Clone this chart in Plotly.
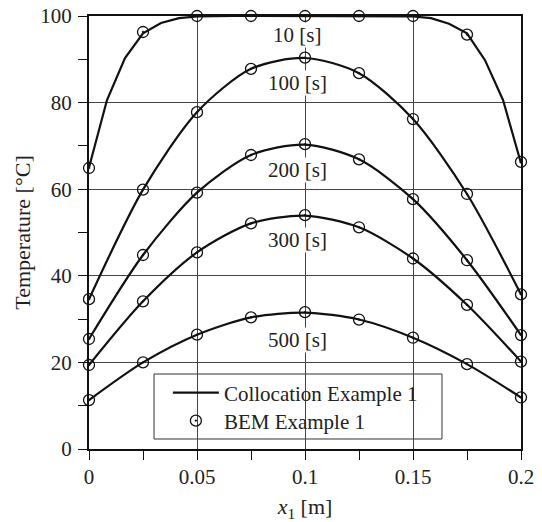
import plotly.graph_objects as go

# ---------------- data ----------------
x_bem = [0.0, 0.025, 0.05, 0.075, 0.1, 0.125, 0.15, 0.175, 0.2]
bem_10 = [64.9, 96.3, 100.0, 100.0, 100.0, 100.0, 100.0, 95.7, 66.3]
bem_100 = [34.6, 59.9, 77.8, 87.8, 90.4, 86.8, 76.2, 58.9, 35.7]
bem_200 = [25.4, 44.8, 59.2, 67.9, 70.4, 66.9, 57.7, 43.6, 26.3]
bem_300 = [19.4, 34.1, 45.4, 52.1, 54.0, 51.2, 44.0, 33.3, 20.2]
bem_500 = [11.3, 20.0, 26.4, 30.4, 31.6, 29.9, 25.7, 19.6, 11.9]

# collocation, t = 10 s (fine sampling, step 0.2/24)
x_col_fine = [i * 0.2 / 24 for i in range(25)]
col_10 = [65.0, 80.6, 90.3, 96.0, 98.4, 99.5, 99.9,
          100.0, 100.0, 100.0, 100.0, 100.0, 100.0, 100.0, 100.0, 100.0, 100.0, 100.0,
          99.9, 99.5, 98.2, 96.0, 89.8, 80.6, 66.0]
# collocation, other times (smooth curves)
x_col = [0.0, 0.025, 0.05, 0.075, 0.1, 0.125, 0.15, 0.175, 0.2]
col_100 = [34.6, 59.9, 77.8, 87.8, 90.3, 86.8, 76.2, 58.9, 35.7]
col_200 = [25.4, 44.8, 59.2, 67.9, 70.3, 66.9, 57.7, 43.6, 26.3]
col_300 = [19.4, 34.1, 45.4, 52.1, 53.9, 51.2, 44.0, 33.3, 20.2]
col_500 = [11.3, 20.0, 26.4, 30.4, 31.5, 29.9, 25.7, 19.6, 11.9]

time_labels = ["10 [s]", "100 [s]", "200 [s]", "300 [s]", "500 [s]"]
label_x = 0.0965
label_y = [95.6, 84.6, 64.4, 48.3, 25.2]

x_ticks = [0, 0.05, 0.1, 0.15, 0.2]
x_tick_text = ["0", "0.05", "0.1", "0.15", "0.2"]
y_ticks = [0, 20, 40, 60, 80, 100]

FONT = "Liberation Serif"

fig = go.Figure()

# collocation lines
fig.add_trace(go.Scatter(x=x_col_fine, y=col_10, mode="lines",
                         line=dict(color="#111", width=2.2),
                         name="Collocation Example 1", legend="legend",
                         showlegend=True, cliponaxis=False))
for ys in [col_100, col_200, col_300, col_500]:
    fig.add_trace(go.Scatter(x=x_col, y=ys, mode="lines",
                             line=dict(color="#111", width=2.2, shape="spline", smoothing=0.8),
                             showlegend=False, cliponaxis=False))

# BEM markers
for i, ys in enumerate([bem_10, bem_100, bem_200, bem_300, bem_500]):
    fig.add_trace(go.Scatter(x=x_bem, y=ys, mode="markers",
                             marker=dict(symbol="circle-open-dot", size=11, color="#111",
                                         line=dict(width=1.3, color="#111")),
                             name="BEM Example 1", legend="legend2",
                             showlegend=(i == 0), cliponaxis=False))

for t, yv in zip(time_labels, label_y):
    fig.add_annotation(x=label_x, y=yv, text=t, showarrow=False,
                       font=dict(family=FONT, size=21, color="#222"),
                       bgcolor="white", borderpad=0)

# legend frame (white box hiding the grid, drawn under the traces)
fig.add_shape(type="rect", xref="paper", yref="paper",
              x0=0.1505, x1=0.8171, y0=0.0231, y1=0.1732,
              line=dict(color="#333", width=1), fillcolor="white", layer="between")

axis_common = dict(
    showline=True, linewidth=2, linecolor="#111", mirror=True,
    showgrid=True, gridcolor="#444", gridwidth=1,
    zeroline=False, automargin=False,
    ticks="outside", ticklen=9, tickwidth=1.2, tickcolor="#111",
    tickfont=dict(family=FONT, size=21, color="#222"),
)

fig.update_xaxes(range=[0, 0.2], tickvals=x_ticks, ticktext=x_tick_text,
                 ticklabelstandoff=-1,
                 minor=dict(ticks="outside", ticklen=9, tickwidth=1.2, tickcolor="#111",
                            dtick=0.025, tick0=0, showgrid=False),
                 title=dict(text="<i>x</i><sub>1</sub> [m]",
                            font=dict(family=FONT, size=22, color="#222"), standoff=11),
                 **axis_common)
fig.update_yaxes(range=[0, 100], tickvals=y_ticks, ticklabelstandoff=2,
                 minor=dict(ticks="outside", ticklen=9, tickwidth=1.2, tickcolor="#111",
                            dtick=10, tick0=0, showgrid=False),
                 title=dict(text="Temperature [°C]",
                            font=dict(family=FONT, size=22, color="#222"), standoff=4),
                 **axis_common)

legend_common = dict(xanchor="left", yanchor="middle",
                     bgcolor="rgba(0,0,0,0)", borderwidth=0,
                     font=dict(family=FONT, size=21, color="#222"),
                     itemwidth=46)

fig.update_layout(
    width=542, height=522,
    margin=dict(l=89, r=21, t=16, b=73, autoexpand=False),
    plot_bgcolor="white", paper_bgcolor="white",
    font=dict(family=FONT, size=21, color="#222"),
    legend=dict(x=0.1826, y=0.1293, **legend_common),
    legend2=dict(x=0.1826, y=0.0647, **legend_common),
)

fig.write_html("out.html", config={"displayModeBar": False},
               post_script="document.body.style.margin='0px';")
